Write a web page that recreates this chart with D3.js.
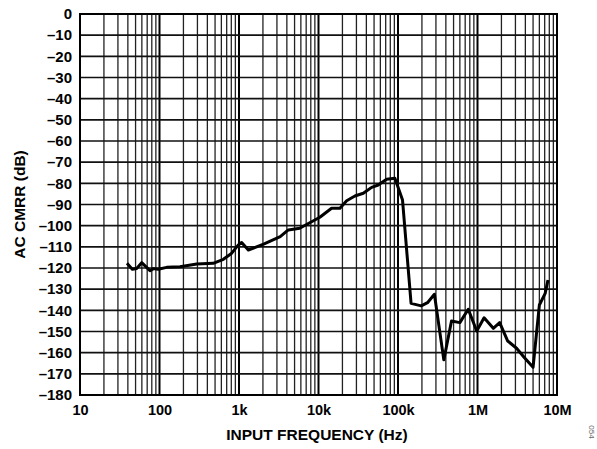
<!DOCTYPE html>
<html><head><meta charset="utf-8">
<script src="https://cdn.jsdelivr.net/npm/d3@7"></script>
<style>body{margin:0;background:#fff}svg{display:block}</style>
</head><body>
<script>
const freqHz = [39,45.5,51.6,59.7,68.9,76,83.6,96.5,123,181,294,473,636,810,981,1080,1310,2040,3300,4170,5800,10400,14600,18600,22600,28700,36600,46600,56400,71900,91400,114000,146000,196000,235000,287000,377000,471000,600000,765000,978000,1210000,1580000,1900000,2400000,3100000,3900000,5000000,6000000,7100000,7700000];
const cmrrDb = [-117.8,-120.6,-120.2,-117.5,-119.7,-121.3,-120.3,-120.6,-119.7,-119.4,-118.1,-117.8,-115.9,-113,-109.1,-108,-111.5,-108.7,-105.2,-102,-101.2,-96,-91.8,-91.8,-88.2,-86,-84.7,-81.9,-80.8,-78.1,-77.6,-87.9,-136.7,-137.9,-136.4,-132.4,-163.4,-145,-145.8,-139.5,-149.8,-143.5,-148.5,-145.8,-154.5,-157.9,-162.4,-166.9,-137.5,-132,-125.7];
const xTickValues = [10,100,1000,10000,100000,1000000,10000000];
const xTickLabels = ["10","100","1k","10k","100k","1M","10M"];
const yTickValues = d3.range(0,-181,-10);

const W=597,H=449;
const L=80,R=557,T=14,B=395;
const svg=d3.select("body").append("svg").attr("width",W).attr("height",H);
const x=d3.scaleLog().domain([10,1e7]).range([L,R]);
const y=d3.scaleLinear().domain([-180,0]).range([B,T]);

// minor vertical grid
const minor=[];
for(let d=10;d<1e7;d*=10){for(let k=2;k<=9;k++)minor.push(d*k);}
svg.append("g").selectAll("line").data(minor).join("line")
 .attr("x1",d=>x(d)).attr("x2",d=>x(d)).attr("y1",T).attr("y2",B)
 .attr("stroke","#222").attr("stroke-width",1.3);
svg.append("g").selectAll("line").data(xTickValues).join("line")
 .attr("x1",d=>x(d)).attr("x2",d=>x(d)).attr("y1",T).attr("y2",B)
 .attr("stroke","#000").attr("stroke-width",2);
svg.append("g").selectAll("line").data(yTickValues).join("line")
 .attr("x1",L).attr("x2",R).attr("y1",d=>y(d)).attr("y2",d=>y(d))
 .attr("stroke","#111").attr("stroke-width",1.6);
svg.append("rect").attr("x",L).attr("y",T).attr("width",R-L).attr("height",B-T)
 .attr("fill","none").attr("stroke","#000").attr("stroke-width",2);

const font="'Liberation Sans',Arial,sans-serif";
const xa=svg.append("g").attr("transform",`translate(0,${B})`)
 .call(d3.axisBottom(x).tickValues(xTickValues).tickFormat((d,i)=>xTickLabels[i]).tickSize(0).tickPadding(10));
xa.select(".domain").remove();
xa.selectAll("text").attr("font-family",font).attr("font-size",14.5).attr("font-weight","bold").attr("fill","#000");
const ya=svg.append("g").attr("transform",`translate(${L},0)`)
 .call(d3.axisLeft(y).tickValues(yTickValues).tickFormat(d=>d===0?"0":"\u2013"+Math.abs(d)).tickSize(0).tickPadding(8));
ya.select(".domain").remove();
ya.selectAll("text").attr("font-family",font).attr("font-size",15).attr("font-weight","bold").attr("fill","#000");

svg.append("text").attr("x",317).attr("y",440).attr("text-anchor","middle")
 .attr("font-family",font).attr("font-size",15.5).attr("font-weight","bold").text("INPUT FREQUENCY (Hz)");
svg.append("text").attr("transform",`translate(25,${(T+B)/2}) rotate(-90)`).attr("text-anchor","middle")
 .attr("font-family",font).attr("font-size",15.5).attr("font-weight","bold").text("AC CMRR (dB)");
svg.append("text").attr("transform",`translate(589,432) rotate(90)`).attr("text-anchor","middle")
 .attr("font-family",font).attr("font-size",8).attr("fill","#666").text("054");

const line=d3.line().x((d,i)=>x(freqHz[i])).y(d=>y(d));
svg.append("path").datum(cmrrDb).attr("d",line).attr("fill","none")
 .attr("stroke","#000").attr("stroke-width",3).attr("stroke-linejoin","round");
</script>
</body></html>
